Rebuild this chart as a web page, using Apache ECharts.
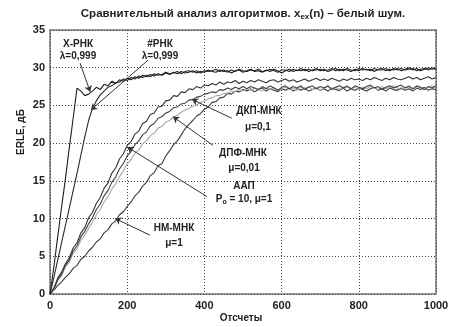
<!DOCTYPE html>
<html>
<head>
<meta charset="utf-8">
<script src="https://cdn.jsdelivr.net/npm/echarts@6/dist/echarts.min.js"></script>
<style>
  html, body { margin: 0; padding: 0; background: #fff; }
  #chart { width: 452px; height: 327px; }
</style>
</head>
<body>
<div id="chart"></div>
<script>
// Sample index grid: one value every 10 samples, 0..1000
const sampleStep = 10;

// ERLE, dB — X-РНК, λ=0,999
const erleXRls = [
  0, 3.6, 7.6, 11.5, 15.3, 19.4, 23.3, 27.3, 26.9, 26.3, 26.5, 26.9, 27.4, 27.1, 27.8, 27.6, 28.2, 27.9, 28.4, 28.2, 28.6,
  28.4, 28.8, 28.6, 29.0, 28.8, 29.1, 28.9, 29.2, 29.0, 29.3,
  29.1, 29.4, 29.2, 29.5, 29.3, 29.4, 29.6, 29.3, 29.5, 29.4,
  29.7, 29.5, 29.4, 29.7, 29.5, 29.6, 29.3, 29.6, 29.7, 29.4,
  29.6, 29.8, 29.5, 29.6, 29.4, 29.7, 29.5, 29.8, 29.6, 29.3,
  29.6, 29.8, 29.5, 29.7, 29.6, 29.8, 29.5, 29.7, 29.9, 29.6,
  29.8, 29.5, 29.7, 29.9, 29.6, 29.8, 29.7, 29.5, 29.8, 29.6,
  29.9, 29.7, 29.8, 29.5, 29.8, 29.9, 29.6, 29.8, 29.7, 29.9,
  29.6, 29.8, 30.0, 29.7, 29.9, 29.6, 29.8, 30.0, 29.8, 29.9
];

// ERLE, dB — #РНК, λ=0,999
const erleHashRls = [
  0, 2.2, 4.5, 6.8, 9.1, 11.4, 13.7, 16.0, 18.4, 20.8, 23.0, 24.6, 25.6, 26.4, 26.9, 27.4, 27.6, 28.0, 28.1, 28.5, 28.3,
  28.7, 28.5, 28.9, 28.7, 29.0, 28.8, 29.2, 29.0, 29.1, 29.4,
  29.2, 29.3, 29.5, 29.2, 29.5, 29.6, 29.4, 29.6, 29.3, 29.6,
  29.5, 29.6, 29.8, 29.5, 29.7, 29.4, 29.7, 29.5, 29.8, 29.6,
  29.5, 29.7, 29.6, 29.8, 29.5, 29.6, 29.8, 29.6, 29.4, 29.7,
  29.7, 29.5, 29.8, 29.6, 29.9, 29.6, 29.8, 29.6, 29.7, 29.8,
  29.6, 29.7, 29.9, 29.6, 29.8, 29.6, 29.9, 29.7, 29.6, 29.9,
  29.7, 29.8, 29.6, 29.9, 29.7, 29.7, 29.9, 29.6, 29.9, 29.7,
  29.9, 29.7, 29.8, 29.9, 29.6, 29.8, 29.9, 29.7, 30.0, 29.8
];

// ERLE, dB — ААП, Po = 10, μ=1
const erleApa = [
  0, 0.8, 2.1, 2.9, 4.0, 4.8, 6.1, 6.8, 8.1, 8.8, 10.1, 10.8, 12.0, 12.8, 14.0, 14.7, 16.0, 16.7, 17.9, 18.6, 19.7,
  20.2, 21.2, 21.6, 22.6, 22.9, 23.8, 24.0, 24.8, 24.9, 25.6,
  25.7, 26.3, 26.2, 26.8, 26.7, 27.2, 27.1, 27.5, 27.3, 27.7,
  27.6, 27.9, 27.7, 28.1, 27.8, 28.1, 28.0, 28.3, 27.9, 28.2,
  28.0, 28.3, 28.1, 28.4, 28.2, 28.0, 28.3, 28.4, 28.1, 28.3,
  28.5, 28.2, 28.4, 28.1, 28.3, 28.5, 28.2, 28.4, 28.6, 28.3,
  28.5, 28.3, 28.6, 28.4, 28.2, 28.5, 28.3, 28.6, 28.4, 28.5,
  28.3, 28.6, 28.4, 28.7, 28.5, 28.3, 28.6, 28.4, 28.7, 28.5,
  28.4, 28.6, 28.8, 28.5, 28.7, 28.4, 28.6, 28.8, 28.5, 28.7
];

// ERLE, dB — ДКП-МНК, μ=0,1
const erleDctLms = [
  0, 0.7, 1.9, 2.6, 3.8, 4.5, 5.7, 6.4, 7.6, 8.3, 9.3, 10.1, 11.2, 11.9, 13.0, 13.7, 14.8, 15.5, 16.6, 17.3, 18.3,
  18.9, 19.8, 20.3, 21.1, 21.5, 22.3, 22.6, 23.3, 23.5, 24.0,
  24.2, 24.7, 24.8, 25.2, 25.3, 25.7, 25.8, 26.1, 26.2, 26.5,
  26.6, 26.8, 26.7, 27.1, 27.0, 27.3, 27.1, 27.4, 27.2, 27.5,
  27.2, 27.5, 27.3, 27.1, 27.5, 27.2, 27.6, 27.3, 27.0, 27.4,
  27.6, 27.2, 27.5, 27.3, 27.6, 27.1, 27.4, 27.6, 27.2, 27.5,
  27.3, 27.6, 27.1, 27.4, 27.6, 27.3, 27.5, 27.2, 27.6, 27.4,
  27.2, 27.5, 27.7, 27.3, 27.5, 27.1, 27.4, 27.6, 27.3, 27.5,
  27.7, 27.3, 27.5, 27.2, 27.6, 27.4, 27.1, 27.5, 27.3, 27.6
];

// ERLE, dB — ДПФ-МНК, μ=0,01
const erleDftLms = [
  0, 0.6, 1.8, 2.4, 3.6, 4.2, 5.4, 6.0, 7.1, 7.8, 8.7, 9.5, 10.5, 11.2, 12.2, 12.9, 13.9, 14.6, 15.6, 16.3, 17.3,
  17.8, 18.7, 19.1, 19.9, 20.3, 21.0, 21.3, 22.0, 22.2, 22.8,
  23.0, 23.5, 23.7, 24.1, 24.4, 24.6, 24.9, 25.1, 25.4, 25.6,
  25.9, 26.0, 26.3, 26.3, 26.6, 26.6, 26.9, 26.8, 27.1, 26.9,
  27.2, 27.0, 27.3, 27.1, 26.9, 27.3, 27.1, 27.4, 27.0, 27.2,
  27.4, 27.1, 27.3, 27.0, 27.4, 27.2, 27.5, 27.1, 27.3, 27.0,
  27.3, 27.5, 27.2, 27.4, 27.1, 27.4, 27.6, 27.2, 27.4, 27.1,
  27.4, 27.2, 27.5, 27.3, 27.1, 27.5, 27.2, 27.4, 27.6, 27.3,
  27.1, 27.4, 27.6, 27.2, 27.5, 27.3, 27.1, 27.4, 27.6, 27.3
];

// ERLE, dB — НМ-МНК, μ=1
const erleNlms = [
  0, 0.5, 1.1, 1.6, 2.2, 2.7, 3.4, 3.8, 4.6, 5.0, 5.7, 6.2, 6.9, 7.3, 8.1, 8.5, 9.3, 9.7, 10.5, 10.9, 11.6,
  12.2, 13.0, 13.5, 14.3, 14.8, 15.7, 16.1, 17.0, 17.3, 18.3,
  19.0, 19.8, 20.3, 21.1, 21.9, 22.5, 23.0, 23.6, 23.9, 24.5,
  24.8, 25.4, 25.5, 26.0, 26.1, 26.6, 26.5, 26.9, 26.8, 27.1,
  26.9, 27.2, 26.8, 27.1, 27.3, 26.9, 27.2, 27.0, 26.8, 27.2,
  27.0, 27.3, 26.9, 27.2, 27.0, 27.3, 26.9, 27.1, 27.3, 27.0,
  27.2, 26.9, 27.3, 27.1, 27.0, 27.3, 26.9, 27.2, 27.0, 27.3,
  27.1, 26.9, 27.2, 27.4, 27.0, 27.2, 26.9, 27.3, 27.1, 27.0,
  27.3, 27.0, 27.2, 26.9, 27.3, 27.1, 27.4, 27.0, 27.2, 27.1
];

// Axis ticks
const xTicks = [0, 200, 400, 600, 800, 1000];
const yTicks = [0, 5, 10, 15, 20, 25, 30, 35];

const FONT = '"Liberation Sans", Arial, sans-serif';

function toPairs(values) {
  return values.map((v, i) => [i * sampleStep, v]);
}

// Callout arrows: [from, to] in data coordinates (samples, dB)
const callouts = [
  [[78, 30.6], [104, 26.8]],
  [[254, 31.0], [106, 24.4]],
  [[471, 23.3], [368, 25.8]],
  [[422, 19.7], [319, 23.5]],
  [[407, 12.9], [200, 19.5]],
  [[259, 7.8], [169, 10.0]]
];

function line(name, values, color, width) {
  return {
    name: name,
    type: 'line',
    data: toPairs(values),
    showSymbol: false,
    symbol: 'none',
    animation: false,
    lineStyle: { color: color, width: width },
    z: 3
  };
}

function label(text, x, y) {
  return {
    type: 'text',
    x: x, y: y,
    style: {
      text: text,
      fill: '#222',
      font: 'bold 10px ' + FONT,
      align: 'center',
      verticalAlign: 'middle'
    },
    z: 10
  };
}

const chart = echarts.init(document.getElementById('chart'), null, { renderer: 'canvas' });

chart.setOption({
  backgroundColor: '#fff',
  animation: false,
  grid: {
    left: 50, right: 16, top: 30, bottom: 33,
    show: true,
    borderColor: '#777',
    borderWidth: 1.5,
    backgroundColor: 'transparent'
  },
  xAxis: {
    type: 'value',
    min: xTicks[0],
    max: xTicks[xTicks.length - 1],
    interval: xTicks[1] - xTicks[0],
    axisLine: { show: false },
    axisTick: { show: false },
    axisLabel: {
      color: '#222', fontFamily: FONT, fontWeight: 'bold', fontSize: 11, margin: 6,
      formatter: v => String(v)
    },
    splitLine: { show: true, lineStyle: { color: '#444', width: 1, type: [1, 2] } }
  },
  yAxis: {
    type: 'value',
    min: yTicks[0],
    max: yTicks[yTicks.length - 1],
    interval: yTicks[1] - yTicks[0],
    axisLine: { show: false },
    axisTick: { show: false },
    axisLabel: {
      color: '#222', fontFamily: FONT, fontWeight: 'bold', fontSize: 11, margin: 5,
      formatter: v => String(v)
    },
    splitLine: { show: true, lineStyle: { color: '#444', width: 1, type: [1, 2] } }
  },
  series: [
    line('НМ-МНК', erleNlms, '#3a3a3a', 1.1),
    line('ДПФ-МНК', erleDftLms, '#a8a8a8', 1.1),
    line('ДКП-МНК', erleDctLms, '#404040', 1.1),
    line('ААП', erleApa, '#333', 1.1),
    line('#РНК', erleHashRls, '#2a2a2a', 1.1),
    line('X-РНК', erleXRls, '#1e1e1e', 1.1),
    {
      type: 'lines',
      coordinateSystem: 'cartesian2d',
      animation: false,
      silent: true,
      symbol: ['none', 'arrow'],
      symbolSize: [0, 6],
      lineStyle: { color: '#333', width: 1, opacity: 1 },
      data: callouts.map(c => ({ coords: c })),
      z: 5
    }
  ],
  graphic: [
    {
      type: 'text',
      x: 243, y: 14,
      style: {
        rich: {
          t: { font: 'bold 11.5px ' + FONT, fill: '#222' },
          s: { font: 'bold 8px ' + FONT, fill: '#222', padding: [6, 0, 0, 0] }
        },
        text: '{t|Сравнительный анализ алгоритмов. x}{s|ex}{t|(n) – белый шум.}',
        align: 'center',
        verticalAlign: 'middle'
      }
    },
    {
      type: 'text',
      x: 21, y: 132,
      rotation: Math.PI / 2,
      style: {
        text: 'ERLE, дБ',
        font: 'bold 10px ' + FONT,
        fill: '#222',
        align: 'center',
        verticalAlign: 'middle'
      }
    },
    {
      type: 'text',
      x: 241, y: 318,
      style: {
        text: 'Отсчеты',
        font: 'bold 10px ' + FONT,
        fill: '#222',
        align: 'center',
        verticalAlign: 'middle'
      }
    },
    label('X-РНК', 78, 44),
    label('λ=0,999', 78, 56),
    label('#РНК', 160, 44),
    label('λ=0,999', 160, 56),
    label('ДКП-МНК', 259, 111),
    label('μ=0,1', 258, 127),
    label('ДПФ-МНК', 243, 153),
    label('μ=0,01', 244, 168),
    label('ААП', 244, 186),
    {
      type: 'text',
      x: 244, y: 199,
      style: {
        rich: {
          t: { font: 'bold 10px ' + FONT, fill: '#222' },
          s: { font: 'bold 7px ' + FONT, fill: '#222', padding: [6, 0, 0, 0] }
        },
        text: '{t|P}{s|o}{t| = 10, μ=1}',
        align: 'center',
        verticalAlign: 'middle'
      },
      z: 10
    },
    label('НМ-МНК', 174, 228),
    label('μ=1', 174, 243)
  ]
});
</script>
</body>
</html>
